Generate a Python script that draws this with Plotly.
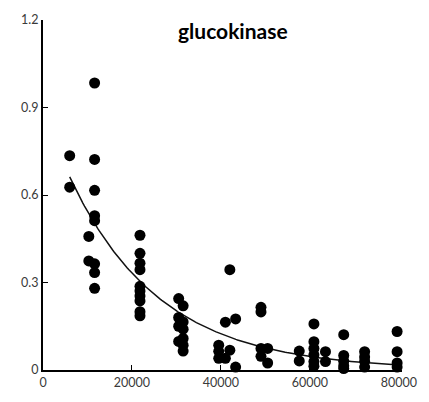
import numpy as np
import plotly.graph_objects as go

# Measured data (x: concentration, y: activity)
x_vals = [6000, 6000,
          10300, 10300,
          11600, 11600, 11600, 11600, 11600, 11600, 11600, 11600,
          21800, 21800, 21800, 21800, 21800, 21800, 21800, 21800, 21800, 21800,
          30500, 30500, 30500, 30500,
          31500, 31500, 31500, 31500, 31500, 31500,
          39500, 39500, 39500,
          41000, 41000,
          42000, 42000,
          43300, 43300,
          49000, 49000, 49000, 49000,
          50500, 50500,
          57600, 57600,
          60900, 60900, 60900, 60900, 60900, 60900,
          63500, 63500,
          67600, 67600, 67600, 67600, 67600,
          72300, 72300, 72300, 72300,
          79600, 79600, 79600, 79600]
y_vals = [0.735, 0.627,
          0.458, 0.374,
          0.984, 0.722, 0.616, 0.529, 0.512, 0.364, 0.334, 0.280,
          0.462, 0.400, 0.366, 0.344, 0.287, 0.271, 0.254, 0.237, 0.200, 0.186,
          0.245, 0.180, 0.150, 0.098,
          0.220, 0.165, 0.140, 0.108, 0.085, 0.065,
          0.085, 0.064, 0.040,
          0.164, 0.040,
          0.344, 0.068,
          0.175, 0.010,
          0.215, 0.199, 0.074, 0.047,
          0.074, 0.024,
          0.065, 0.031,
          0.158, 0.097, 0.074, 0.052, 0.029, 0.013,
          0.063, 0.029,
          0.121, 0.050, 0.030, 0.015, 0.005,
          0.063, 0.045, 0.030, 0.010,
          0.132, 0.063, 0.024, 0.010]

title_text = "glucokinase"
x_ticks = [0, 20000, 40000, 60000, 80000]
x_tick_text = ["0", "20000", "40000", "60000", "80000"]
y_ticks = [0, 0.3, 0.6, 0.9, 1.2]
y_tick_text = ["0", "0.3", "0.6", "0.9", "1.2"]

# Exponential trend line y = A * exp(-B x), coefficients
trend_a = 0.89
trend_b = 4.93e-5

xa = np.array(x_vals, dtype=float)
xt = np.linspace(xa.min(), xa.max(), 200)
yt = trend_a * np.exp(-trend_b * xt)

fig = go.Figure()
fig.add_trace(go.Scatter(x=xt, y=yt, mode="lines",
                         line=dict(color="#111111", width=1.5),
                         hoverinfo="skip", showlegend=False))
fig.add_trace(go.Scatter(x=x_vals, y=y_vals, mode="markers",
                         marker=dict(color="#000000", size=11),
                         cliponaxis=False, showlegend=False))

fig.update_layout(
    width=429, height=402,
    margin=dict(l=43, r=19, t=17, b=30),
    paper_bgcolor="white", plot_bgcolor="white",
    font=dict(family="Lato, Open Sans, sans-serif", size=12.5, color="#3a3a3a"),
    annotations=[dict(text="<b>" + title_text + "</b>", x=0.53, y=0.969,
                      xref="paper", yref="paper", showarrow=False,
                      yanchor="middle",
                      font=dict(size=21, color="#000000", family="Lato, Open Sans, sans-serif"))],
    xaxis=dict(range=[0, 80700], tickvals=x_ticks, ticktext=x_tick_text,
               ticks="inside", ticklen=5,
               tickcolor="#000000", showline=True, linecolor="#000000", linewidth=1.5,
               showgrid=False, zeroline=False),
    yaxis=dict(range=[0, 1.2], tickvals=y_ticks, ticktext=y_tick_text,
               ticks="inside", ticklen=5, tickcolor="#000000",
               showline=True, linecolor="#000000", linewidth=2,
               showgrid=False, zeroline=False),
)

fig.write_html("out.html")
